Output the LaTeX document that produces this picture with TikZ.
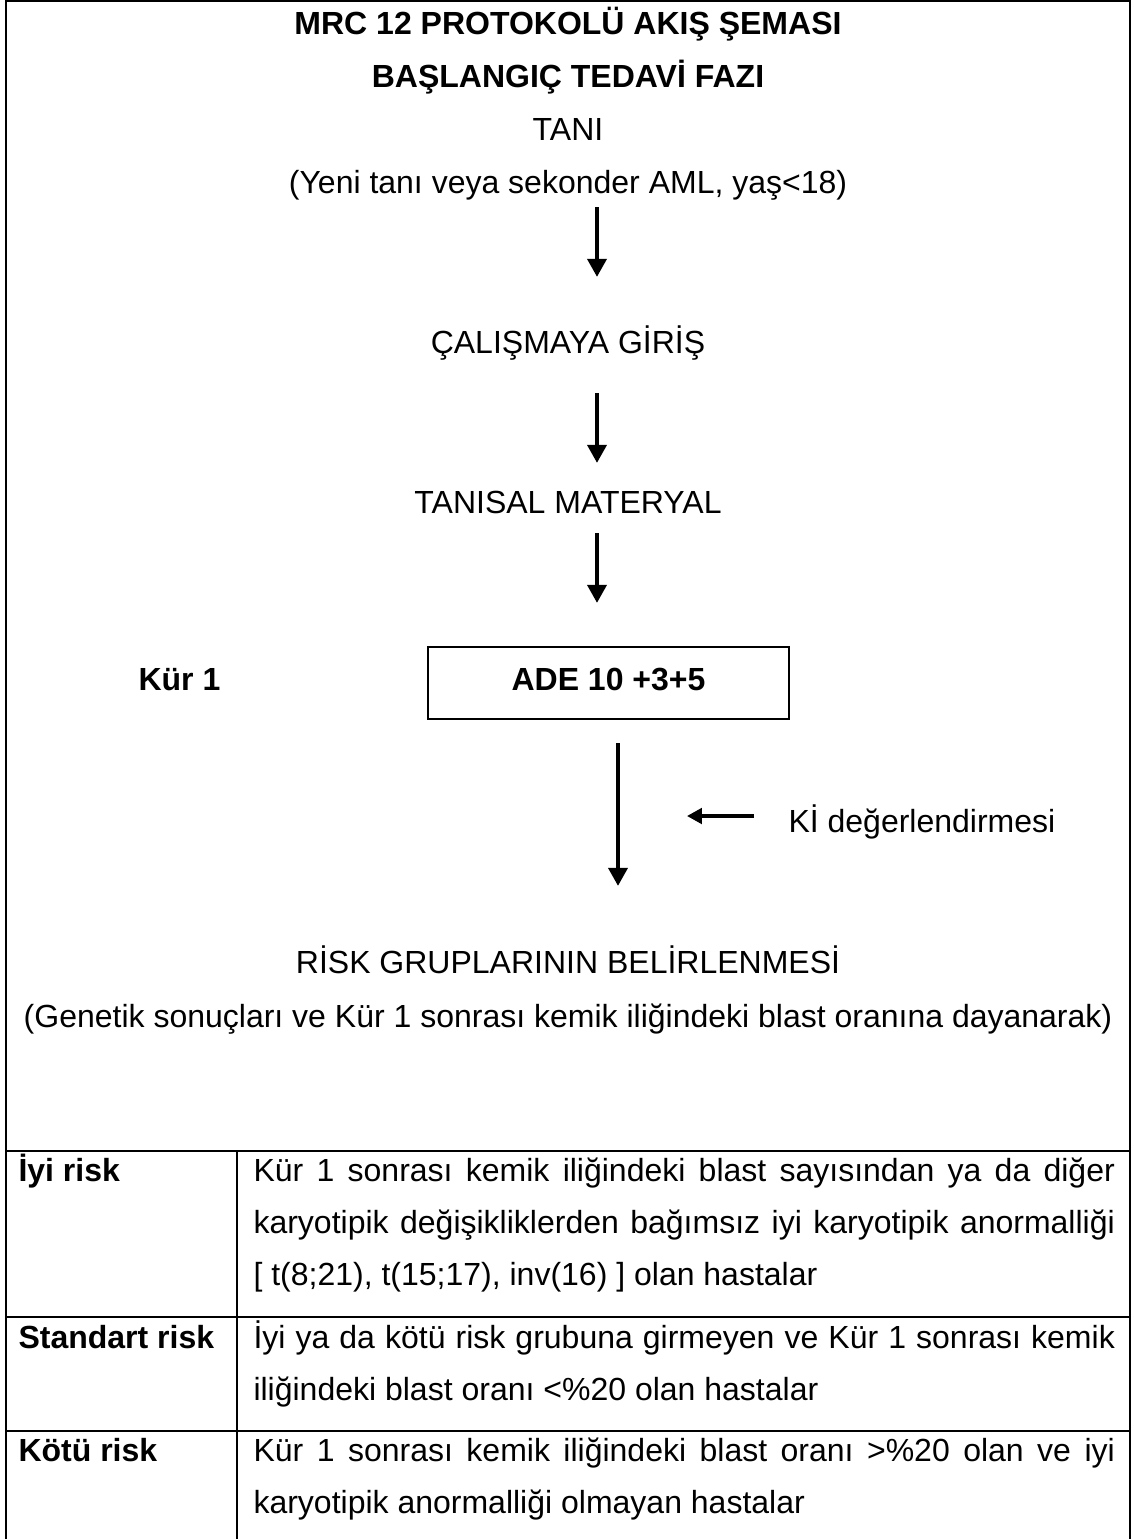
\documentclass[tikz,border=0pt]{standalone}
\usepackage{fontspec}
\setmainfont{Liberation Sans}
\usetikzlibrary{arrows.meta}
\setlength{\parindent}{0pt}
\hyphenpenalty=10000

\newcommand{\twelve}{\fontsize{12}{19.5}\selectfont}

\tikzset{
    lbl/.style = {font=\twelve, anchor=base, inner sep=0pt},
    ttl/.style = {lbl, font=\twelve\bfseries},
    curebox/.style = {draw, line width=0.75pt, font=\twelve\bfseries, minimum width=135.4pt, minimum height=27pt,
        text height=8.6pt, text depth=3pt, inner sep=0pt},
    cellhd/.style = {font=\twelve\bfseries, anchor=base west, inner sep=0pt},
    celltxt/.style = {font=\twelve, anchor=north west, inner sep=0pt, text width=323pt, align=justify},
    arr/.style = {line width=1.8pt, -{Triangle[length=6.8pt, width=7pt]}},
    kiarr/.style = {line width=1.3pt, -{Triangle[length=5.6pt, width=5.8pt]}},
    rule/.style = {line width=0.75pt}
}

\begin{document}
\begin{tikzpicture}[x=0.375pt, y=-0.375pt]
    \useasboundingbox (0,0) rectangle (1134,1539);

    % frame and table
    \draw[rule] (6,1539) -- (6,1) -- (1130,1) -- (1130,1539);
    \foreach \yy in {1151, 1317, 1431}
        \draw[rule] (6,\yy) -- (1130,\yy);
    \draw[rule] (237,1151) -- (237,1539);

    \node[ttl] (title) at (568,34) {MRC 12 PROTOKOLÜ AKIŞ ŞEMASI};
    \node[ttl] (faz) at (568,87) {BAŞLANGIÇ TEDAVİ FAZI};
    \node[lbl] (tani) at (568,140) {TANI};
    \node[lbl] (yeni) at (568,193) {(Yeni tanı veya sekonder AML, yaş<18)};
    \node[lbl] (giris) at (568,353) {ÇALIŞMAYA GİRİŞ};
    \node[lbl] (materyal) at (568,513) {TANISAL MATERYAL};
    \node[curebox] (ade) at (608.5,683) {ADE 10 +3+5};
    \node[cellhd] (kur) at (138,690) {Kür 1};
    \node[lbl, anchor=base west] (ki) at (788,832) {Kİ değerlendirmesi};
    \node[lbl] (risk) at (568,973) {RİSK GRUPLARININ BELİRLENMESİ};
    \node[lbl] (genetik) at (568,1027) {(Genetik sonuçları ve Kür 1 sonrası kemik iliğindeki blast oranına dayanarak)};

    % arrows
    \coordinate (s1) at (597,207);  \coordinate (e1) at (597,277);
    \coordinate (s2) at (597,393);  \coordinate (e2) at (597,463);
    \coordinate (s3) at (597,533);  \coordinate (e3) at (597,603);
    \foreach \i in {1,2,3}
        \draw[arr] (s\i) -- (e\i);
    \coordinate (s4) at (618,743);  \coordinate (e4) at (618,886);
    \draw[arr] (s4) -- (e4);
    \coordinate (kistart) at (754,816); \coordinate (kiend) at (687,816);
    \draw[kiarr] (kistart) -- (kiend);

    % risk table
    \node[cellhd] (iyi) at (18,1181) {İyi risk};
    \node[celltxt] (iyitxt) at (253,1144.6) {\strut Kür 1 sonrası kemik iliğindeki blast sayısından ya da diğer\linebreak
        karyotipik değişikliklerden bağımsız iyi karyotipik anormalliği\linebreak
        {[} t(8;21), t(15;17), inv(16) ] olan hastalar};
    \node[cellhd] (std) at (18,1348) {Standart risk};
    \node[celltxt] (stdtxt) at (253,1311.6) {\strut İyi ya da kötü risk grubuna girmeyen ve Kür 1 sonrası kemik\linebreak
        iliğindeki blast oranı <\%20 olan hastalar};
    \node[cellhd] (kotu) at (18,1461) {Kötü risk};
    \node[celltxt] (kotutxt) at (253,1424.6) {\strut Kür 1 sonrası kemik iliğindeki blast oranı >\%20 olan ve iyi\linebreak
        karyotipik anormalliği olmayan hastalar};
\end{tikzpicture}
\end{document}
